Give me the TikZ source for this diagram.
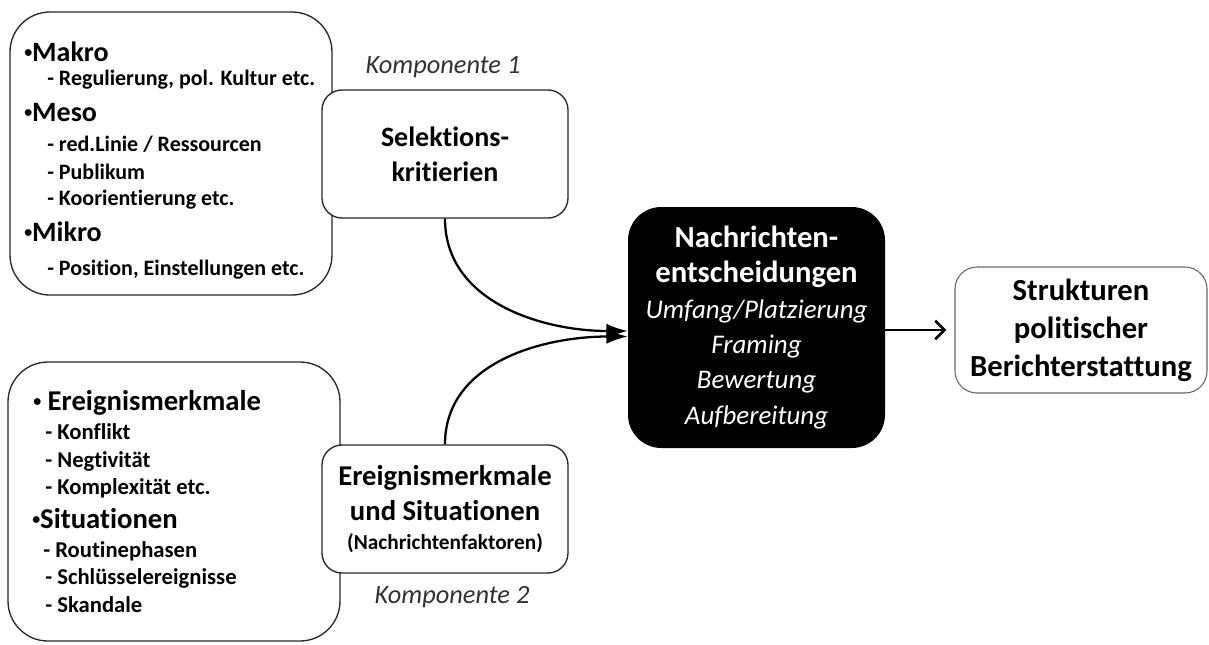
\documentclass[tikz,border=0pt]{standalone}
\usepackage{fontspec}
\setmainfont{Carlito}[Ligatures={NoCommon}]
\usepackage{xcolor}
\usetikzlibrary{positioning, calc, arrows.meta}
\definecolor{boxline}{RGB}{40, 40, 40}
\definecolor{labelgray}{RGB}{50, 50, 50}
\tikzstyle{arrow} = [line width=1.7pt, -{Latex[length=16pt,width=11pt]}]
\tikzset{
  listbox/.style={draw=boxline, line width=1pt, rounded corners=30pt, fill=white, inner sep=0pt},
  compbox/.style={draw=boxline, line width=1pt, rounded corners=15pt, fill=white, inner sep=0pt,
    minimum width=184.5pt, minimum height=96pt, align=center, font=\fontsize{21.5}{26.25}\selectfont\bfseries},
  head/.style={anchor=base west, inner sep=0pt, font=\fontsize{21}{24}\selectfont\bfseries},
  bighead/.style={anchor=base west, inner sep=0pt, font=\fontsize{21.5}{25}\selectfont\bfseries},
  item/.style={anchor=base west, inner sep=0pt, font=\fontsize{16.5}{19}\selectfont\bfseries},
  bigitem/.style={anchor=base west, inner sep=0pt, font=\fontsize{17}{20}\selectfont\bfseries},
  komp/.style={font=\fontsize{19.8}{23}\selectfont\itshape, text=labelgray}
}
\newcommand{\nachitem}[1]{{\fontsize{20.2}{26.5}\selectfont\mdseries\itshape #1}}
\newcommand{\dotmark}{\raisebox{2.6pt}{\fontsize{12}{12}\selectfont•}}

\begin{document}
\begin{tikzpicture}[x=0.75pt, y=-0.75pt]
\useasboundingbox (0,0) rectangle (1209,644);

% Left boxes with the levels
\node[listbox, minimum width=241.5pt, minimum height=212.25pt] (levels) at (171,153.5) {};
\node[listbox, minimum width=249pt, minimum height=209.25pt] (events) at (174,501.5) {};

% Items, box 1
\node[head] (makro) at (24,61) {\dotmark Makro};
\node[item] (makro1) at (47,85) {- Regulierung, pol. Kultur etc.};
\node[head] (meso) at (24,121) {\dotmark Meso};
\node[item] (meso1) at (47,151) {- red.Linie / Ressourcen};
\node[item] (meso2) at (47,179) {- Publikum};
\node[item] (meso3) at (47,205) {- Koorientierung etc.};
\node[head] (mikro) at (24,241) {\dotmark Mikro};
\node[item] (mikro1) at (47,275) {- Position, Einstellungen etc.};

% Items, box 2
\node[bighead] (ereig) at (33,410) {\dotmark\ Ereignismerkmale};
\node[bigitem] (ereig1) at (45,439) {- Konflikt};
\node[bigitem] (ereig2) at (45,467) {- Negtivität};
\node[bigitem] (ereig3) at (45,494) {- Komplexität etc.};
\node[bighead] (situ) at (32,528) {\dotmark Situationen};
\node[bigitem] (situ1) at (43,557) {- Routinephasen};
\node[bigitem] (situ2) at (45,584) {- Schlüsselereignisse};
\node[bigitem] (situ3) at (45,612) {- Skandale};

% Components
\node[compbox, font=\fontsize{21}{26.25}\selectfont\bfseries] (sel) at (445,154) {Selektions-\\kritierien};
\node[compbox] (nf) at (445,509) {Ereignismerkmale\\und Situationen\\[-4pt]{\fontsize{16}{20}\selectfont(Nachrichtenfaktoren)}};
\node[komp] (komp1) at (443,67) {Komponente 1};
\node[komp] (komp2) at (452,597) {Komponente 2};

% Decisions and result
\node[rectangle, rounded corners=25pt, fill=black, text=white, inner sep=0pt, minimum width=192.75pt, minimum height=180.75pt,
  align=center, font=\fontsize{23}{26.5}\selectfont\bfseries] (nach) at (756.5,327.5) {
    Nachrichten-\\entscheidungen\\
    \nachitem{Umfang/Platzierung}\\
    \nachitem{Framing}\\
    \nachitem{Bewertung}\\
    \nachitem{Aufbereitung}
};
\node[rectangle, rounded corners=16.5pt, draw=black!60, line width=0.8pt, inner sep=0pt, minimum width=189pt, minimum height=94.5pt,
  align=center, font=\fontsize{23}{28.5}\selectfont\bfseries] (struk) at (1081,330) {Strukturen\\politischer\\Berichterstattung};

% Arrows
\draw[arrow] (sel.south) to[out=-90, in=180] ($(nach.west)+(0,3.5)$);
\draw[arrow] (nf.north) to[out=90, in=180] ($(nach.west)+(0,9)$);
\draw[line width=2pt, -{Straight Barb[length=7pt,width=14pt]}, shorten >=6pt] (nach.east |- struk.west) -- (struk.west);

\end{tikzpicture}
\end{document}
